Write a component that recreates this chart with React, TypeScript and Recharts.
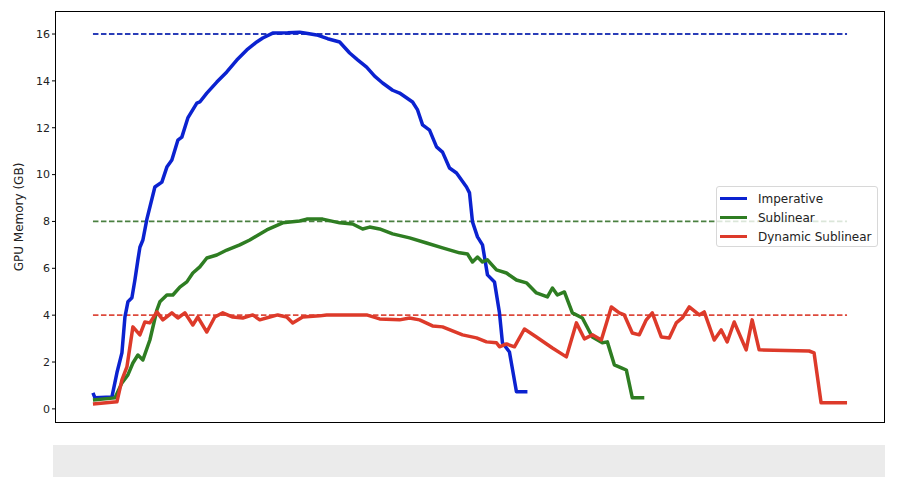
import { LineChart, Line, XAxis, YAxis, ReferenceLine } from "recharts";

// time index (pixel-ish steps) and memory in GB
const imperativeT = [0, 2, 19, 24, 29, 32, 35, 39, 42, 45, 47, 50, 54, 62, 69, 74, 79, 85, 89, 95, 104, 107, 114, 124, 134, 144, 154, 164, 170, 180, 195, 207, 215, 224, 235, 247, 257, 265, 274, 282, 290, 300, 307, 320, 325, 330, 337, 344, 350, 357, 364, 374, 377, 380, 385, 390, 395, 402, 407, 410, 417, 424, 435];
const imperativeGB = [0.68, 0.47, 0.51, 1.54, 2.39, 3.92, 4.57, 4.74, 5.5, 6.36, 6.9, 7.21, 8.1, 9.47, 9.68, 10.32, 10.62, 11.47, 11.6, 12.42, 13.05, 13.1, 13.48, 13.95, 14.38, 14.89, 15.32, 15.66, 15.83, 16.04, 16.05, 16.08, 16.02, 15.96, 15.8, 15.66, 15.19, 14.9, 14.59, 14.2, 13.91, 13.6, 13.48, 13.1, 12.76, 12.12, 11.9, 11.18, 10.96, 10.28, 10.07, 9.47, 9.22, 7.98, 7.34, 7.0, 5.72, 5.42, 4.1, 2.82, 2.43, 0.73, 0.73];

const sublinearT = [0, 22, 29, 35, 40, 45, 50, 57, 64, 67, 74, 80, 87, 94, 100, 107, 114, 124, 134, 147, 157, 174, 190, 207, 214, 230, 247, 260, 270, 277, 287, 300, 317, 334, 350, 367, 375, 380, 385, 390, 395, 404, 414, 424, 434, 444, 455, 460, 465, 472, 480, 490, 500, 510, 515, 522, 529, 534, 540, 552];
const sublinearGB = [0.38, 0.47, 1.11, 1.45, 1.96, 2.3, 2.09, 2.94, 4.22, 4.57, 4.86, 4.86, 5.2, 5.42, 5.8, 6.06, 6.44, 6.57, 6.78, 7.0, 7.21, 7.64, 7.94, 8.02, 8.1, 8.1, 7.94, 7.89, 7.68, 7.76, 7.68, 7.47, 7.3, 7.08, 6.87, 6.66, 6.61, 6.27, 6.48, 6.27, 6.36, 5.93, 5.8, 5.5, 5.38, 4.95, 4.78, 5.16, 4.86, 4.99, 4.1, 3.88, 3.07, 2.82, 2.86, 1.88, 1.75, 1.66, 0.47, 0.47];

const dynamicT = [0, 24, 29, 34, 40, 47, 52, 57, 64, 70, 79, 85, 92, 100, 105, 114, 122, 130, 140, 150, 160, 167, 177, 185, 194, 200, 210, 227, 234, 274, 287, 307, 317, 327, 340, 350, 360, 370, 384, 394, 404, 407, 414, 422, 432, 444, 460, 474, 484, 492, 500, 509, 519, 527, 532, 540, 547, 554, 560, 569, 577, 584, 590, 597, 607, 612, 622, 629, 635, 642, 654, 660, 667, 717, 722, 729, 755];
const dynamicGB = [0.21, 0.3, 1.24, 1.79, 3.5, 3.16, 3.71, 3.67, 4.14, 3.8, 4.1, 3.88, 4.1, 3.58, 3.92, 3.28, 3.92, 4.1, 3.92, 3.88, 4.01, 3.8, 3.92, 4.01, 3.92, 3.67, 3.92, 3.97, 4.01, 4.01, 3.84, 3.8, 3.88, 3.8, 3.54, 3.5, 3.33, 3.16, 3.03, 2.86, 2.82, 2.65, 2.77, 2.65, 3.41, 3.07, 2.6, 2.22, 3.67, 2.99, 3.16, 2.94, 4.35, 4.1, 4.01, 3.24, 3.16, 3.8, 4.1, 3.07, 3.03, 3.67, 3.88, 4.35, 4.01, 4.14, 2.94, 3.37, 2.86, 3.71, 2.52, 3.8, 2.52, 2.47, 2.39, 0.26, 0.26];

const budgetGB = [16, 8, 4];
const budgetSpan = [0, 755];
const yTicks = [0, 2, 4, 6, 8, 10, 12, 14, 16];

const series = [
  { name: "Imperative", color: "#0b22d0" },
  { name: "Sublinear", color: "#2e7d22" },
  { name: "Dynamic Sublinear", color: "#dd3a2a" },
];
const dashColors = ["#2a3db8", "#4a8040", "#dd4a3c"];

const toRows = (ts: number[], vs: number[]) => ts.map((t, i) => ({ t, v: vs[i] }));

const imperativeData = toRows(imperativeT, imperativeGB);
const sublinearData = toRows(sublinearT, sublinearGB);
const dynamicData = toRows(dynamicT, dynamicGB);
const allData = [imperativeData, sublinearData, dynamicData];

const font = "'DejaVu Sans', sans-serif";

export default function App() {
  return (
    <div style={{ position: "absolute", left: 0, top: 0, width: 902, height: 477, background: "#fff", fontFamily: font }}>
      <LineChart width={902} height={477} margin={{ top: 12, right: 18, bottom: 55, left: 0 }}>
        <XAxis type="number" dataKey="t" domain={[-37, 792]} hide allowDataOverflow />
        <YAxis
          type="number"
          width={56}
          domain={[-0.56, 16.94]}
          ticks={yTicks}
          allowDataOverflow
          axisLine={false}
          tickLine={{ stroke: "#000" }}
          tickSize={4}
          tick={{ fill: "#222", fontSize: 11, fontFamily: font }}
        />
        {budgetGB.map((g, i) => (
          <ReferenceLine
            key={g}
            segment={[{ x: budgetSpan[0], y: g }, { x: budgetSpan[1], y: g }]}
            stroke={dashColors[i]}
            strokeWidth={1.8}
            strokeDasharray="5.5 2.5"
          />
        ))}
        {allData.map((d, i) => (
          <Line
            key={series[i].name}
            data={d}
            dataKey="v"
            type="linear"
            stroke={series[i].color}
            strokeWidth={3.5}
            dot={false}
            isAnimationActive={false}
            strokeLinejoin="round"
          />
        ))}
      </LineChart>
      {/* frame */}
      <div style={{ position: "absolute", left: 55, top: 11, width: 830, height: 412, border: "1px solid #000", boxSizing: "border-box", pointerEvents: "none" }} />
      {/* y label */}
      <div style={{ position: "absolute", left: 19, top: 217, transform: "translate(-50%, -50%) rotate(-90deg)", fontSize: 12, color: "#222", whiteSpace: "nowrap" }}>
        GPU Memory (GB)
      </div>
      {/* legend */}
      <div style={{ position: "absolute", left: 716, top: 186, width: 162, height: 61, boxSizing: "border-box", border: "1px solid #d8d8d8", borderRadius: 3, background: "rgba(255,255,255,0.8)", padding: "2px 0 0 3px" }}>
        {series.map((s) => (
          <div key={s.name} style={{ display: "flex", alignItems: "center", height: 19, fontSize: 12, color: "#222" }}>
            <div style={{ width: 27, height: 3.5, background: s.color, marginRight: 11 }} />
            <span>{s.name}</span>
          </div>
        ))}
      </div>
      {/* grey band below */}
      <div style={{ position: "absolute", left: 53, top: 445, width: 832, height: 32, background: "#ebebeb" }} />
    </div>
  );
}
